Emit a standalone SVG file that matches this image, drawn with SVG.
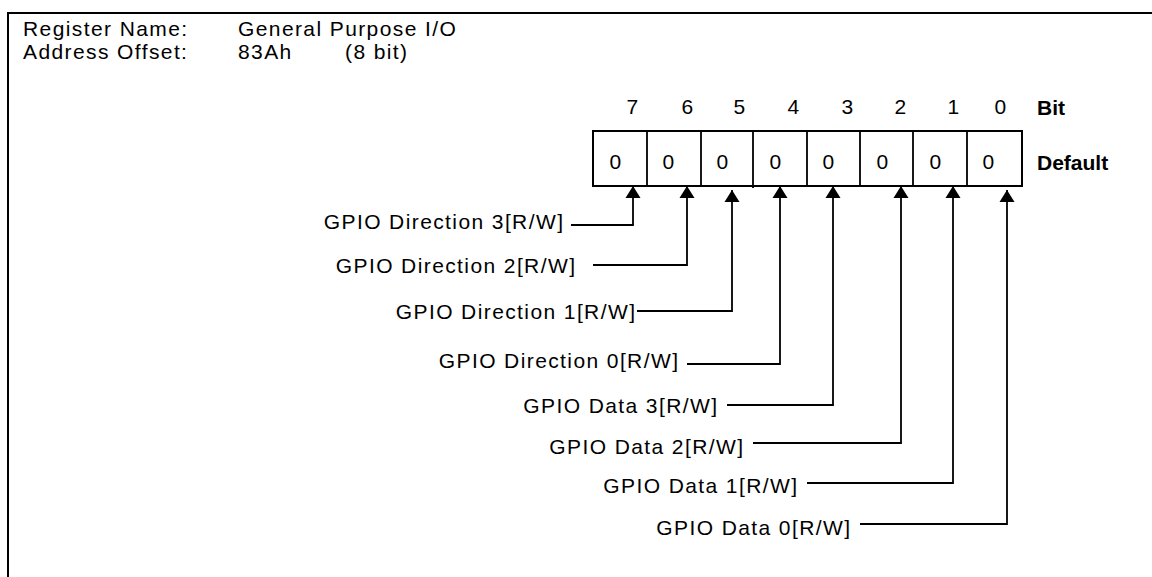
<svg xmlns="http://www.w3.org/2000/svg" width="1152" height="577" viewBox="0 0 1152 577">
<style>
.t{font-family:"Liberation Sans",Arial,Helvetica,sans-serif;font-size:21px;letter-spacing:1.4px;fill:#000}
.b{font-weight:bold;letter-spacing:0px}
.m{text-anchor:middle}
.e{text-anchor:end}
.ln{fill:none;stroke:#000;stroke-width:1.8}
.bx{fill:#fff;stroke:#000;stroke-width:2}
</style>
<defs>
<marker id="ah" markerUnits="userSpaceOnUse" viewBox="0 -8 12 16" refX="12" refY="0" markerWidth="12" markerHeight="16" orient="auto">
<path d="M0,-7.5 L12,0 L0,7.5 Z" fill="#000"/>
</marker>
</defs>
<rect width="1152" height="577" fill="#fff"/>
<path d="M8,577 V13 H1152" fill="none" stroke="#000" stroke-width="2"/>
<g id="header">
<text class="t" x="23" y="36">Register Name:</text>
<text class="t" x="23" y="59">Address Offset:</text>
<text class="t" x="238" y="36">General Purpose I/O</text>
<text class="t" x="238" y="59">83Ah</text>
<text class="t" x="345" y="59">(8 bit)</text>
</g>
<g id="register">
<rect class="bx" x="593" y="131" width="429" height="55"/>
<path class="ln" d="M647,131V186M701,131V186M753,131V188M807,131V186M860,131V186M913,131V186M967,131V186" stroke-width="2"/>
<g id="bits">
<text class="t m" x="633" y="114">7</text>
<text class="t m" x="688" y="114">6</text>
<text class="t m" x="740" y="114">5</text>
<text class="t m" x="794" y="114">4</text>
<text class="t m" x="848" y="114">3</text>
<text class="t m" x="901" y="114">2</text>
<text class="t m" x="954" y="114">1</text>
<text class="t m" x="1001" y="114">0</text>
<text class="t b" x="1037" y="115">Bit</text>
</g>
<g id="defaults">
<text class="t m" x="616" y="169">0</text>
<text class="t m" x="669" y="169">0</text>
<text class="t m" x="723" y="169">0</text>
<text class="t m" x="776" y="169">0</text>
<text class="t m" x="829" y="169">0</text>
<text class="t m" x="883" y="169">0</text>
<text class="t m" x="936" y="169">0</text>
<text class="t m" x="989" y="169">0</text>
<text class="t b" x="1037" y="170">Default</text>
</g>
</g>
<g id="labels">
<text id="dir3" class="t e" x="564.4" y="229">GPIO Direction 3[R/W]</text>
<text id="dir2" class="t e" x="576.4" y="273">GPIO Direction 2[R/W]</text>
<text id="dir1" class="t e" x="636.4" y="319">GPIO Direction 1[R/W]</text>
<text id="dir0" class="t e" x="679.4" y="368">GPIO Direction 0[R/W]</text>
<text id="data3" class="t e" x="718.4" y="413">GPIO Data 3[R/W]</text>
<text id="data2" class="t e" x="744.4" y="454">GPIO Data 2[R/W]</text>
<text id="data1" class="t e" x="798.4" y="493">GPIO Data 1[R/W]</text>
<text id="data0" class="t e" x="851.4" y="535">GPIO Data 0[R/W]</text>
</g>
<g id="connectors" class="ln">
<path class="ln" marker-end="url(#ah)" d="M571,225 H633 V186"/>
<path class="ln" marker-end="url(#ah)" d="M593,265 H687 V186"/>
<path class="ln" marker-end="url(#ah)" d="M637,311 H732 V190"/>
<path class="ln" marker-end="url(#ah)" d="M687,364 H780 V186"/>
<path class="ln" marker-end="url(#ah)" d="M727,405 H833 V186"/>
<path class="ln" marker-end="url(#ah)" d="M753,443 H901 V186"/>
<path class="ln" marker-end="url(#ah)" d="M807,483 H953 V186"/>
<path class="ln" marker-end="url(#ah)" d="M860,524 H1007 V190"/>
</g>
</svg>
